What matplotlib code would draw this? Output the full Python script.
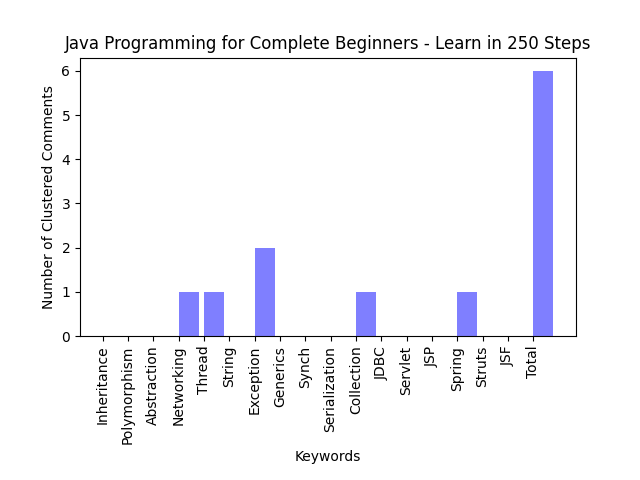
import numpy as np
from matplotlib import pyplot as plt

keywords = ['Inheritance', 'Polymorphism', 'Abstraction', 'Networking', 'Thread',
            'String', 'Exception', 'Generics', 'Synch', 'Serialization', 'Collection',
            'JDBC', 'Servlet', 'JSP', 'Spring', 'Struts', 'JSF', 'Total']
counts = [0, 0, 0, 1, 1, 0, 2, 0, 0, 0, 1, 0, 0, 0, 1, 0, 0, 6]

fig = plt.figure(figsize=(6.4, 4.8), dpi=100)
y_pos = np.arange(len(keywords))
plt.bar(y_pos, counts, align='edge', alpha=0.5, color='blue')
plt.xticks(y_pos, keywords, rotation=90)
plt.ylabel('Number of Clustered Comments')
plt.xlabel('Keywords')
plt.title('Java Programming for Complete Beginners - Learn in 250 Steps')
plt.subplots_adjust(bottom=0.3)
plt.savefig('out.png')
